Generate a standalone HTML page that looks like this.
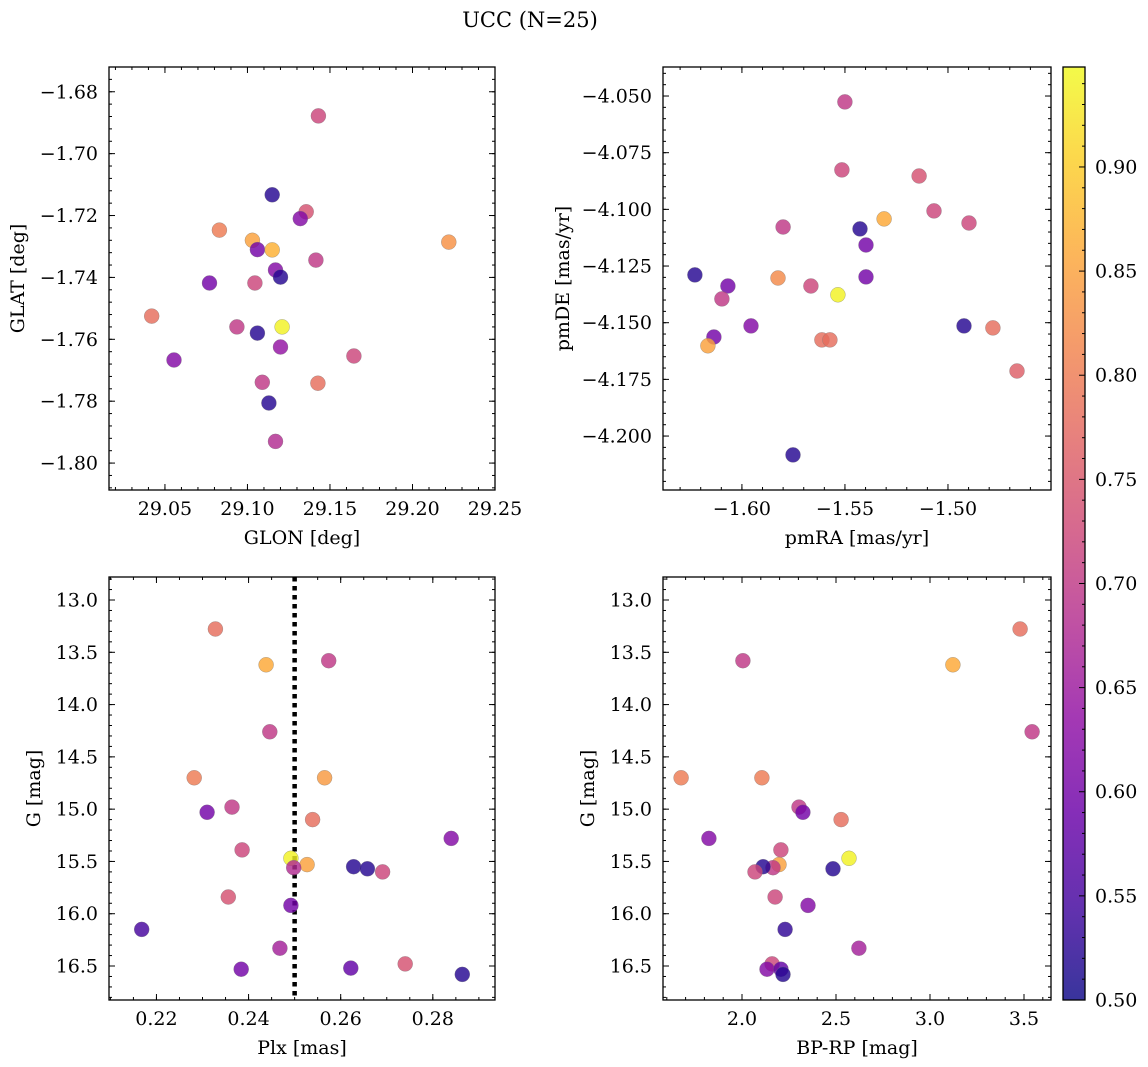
<!DOCTYPE html>
<html><head><meta charset="utf-8"><style>
body{margin:0;background:#fff;}
svg{display:block;font-family:"DejaVu Serif","Liberation Serif",serif;}
</style></head><body>
<svg id="fig" width="1148" height="1067" viewBox="0 0 1148 1067" xmlns="http://www.w3.org/2000/svg">
<text x="530" y="27" font-size="21" text-anchor="middle">UCC (N=25)</text>
</svg>
<script>
// ---- data ----
const glon = [29.143,29.115,29.1356,29.132,29.083,29.103,29.106,29.115,29.222,29.1415,29.117,29.12,29.077,29.1045,29.042,29.0936,29.121,29.106,29.0555,29.12,29.1645,29.109,29.1427,29.113,29.117];
const glat = [-1.6878,-1.7133,-1.7188,-1.721,-1.7247,-1.728,-1.731,-1.7311,-1.7286,-1.7344,-1.7376,-1.7399,-1.7418,-1.7418,-1.7525,-1.756,-1.756,-1.758,-1.7667,-1.7625,-1.7654,-1.7739,-1.7742,-1.7806,-1.793];
const probA = [0.72,0.52,0.74,0.62,0.80,0.85,0.60,0.87,0.83,0.70,0.62,0.52,0.60,0.72,0.78,0.70,0.94,0.52,0.62,0.64,0.72,0.70,0.78,0.52,0.68];

const pmra = [-1.55,-1.5515,-1.514,-1.5068,-1.531,-1.4898,-1.58,-1.5427,-1.5398,-1.6228,-1.5825,-1.5398,-1.6068,-1.5665,-1.5534,-1.6097,-1.5956,-1.4922,-1.4782,-1.6136,-1.5612,-1.5573,-1.6165,-1.4665,-1.5752];
const pmde = [-4.0526,-4.0826,-4.0853,-4.1007,-4.1042,-4.106,-4.1078,-4.1086,-4.1157,-4.1289,-4.1303,-4.1298,-4.1338,-4.1338,-4.1377,-4.1395,-4.1514,-4.1514,-4.1523,-4.1563,-4.1576,-4.1576,-4.1602,-4.1713,-4.2083];
const probB = [0.70,0.72,0.74,0.72,0.86,0.72,0.70,0.52,0.60,0.52,0.82,0.60,0.60,0.72,0.94,0.70,0.62,0.52,0.78,0.60,0.78,0.78,0.85,0.76,0.52];

const plx = [0.2328,0.2438,0.2574,0.2446,0.2282,0.2565,0.231,0.2364,0.2539,0.2386,0.284,0.2492,0.2527,0.2498,0.2628,0.2658,0.2691,0.2356,0.2492,0.2168,0.2468,0.2384,0.2622,0.274,0.2864];
const gmagC = [13.277,13.62,13.58,14.26,14.70,14.70,15.03,14.98,15.10,15.39,15.28,15.47,15.53,15.56,15.55,15.57,15.60,15.84,15.92,16.15,16.33,16.53,16.52,16.48,16.58];
const probC = [0.78,0.86,0.70,0.70,0.80,0.84,0.60,0.70,0.78,0.72,0.62,0.94,0.85,0.68,0.52,0.52,0.72,0.74,0.60,0.55,0.66,0.60,0.58,0.74,0.52];

const bprp = [3.479,3.122,2.005,3.543,1.676,2.106,2.303,2.324,2.527,2.207,1.824,2.569,2.197,2.165,2.112,2.484,2.069,2.176,2.351,2.229,2.622,2.16,2.133,2.207,2.218];
const gmagD = [13.277,13.62,13.58,14.26,14.70,14.70,14.98,15.03,15.10,15.39,15.28,15.47,15.53,15.56,15.55,15.57,15.60,15.84,15.92,16.15,16.33,16.48,16.53,16.53,16.58];
const probD = [0.78,0.86,0.70,0.70,0.80,0.80,0.70,0.60,0.78,0.72,0.62,0.94,0.85,0.70,0.52,0.52,0.72,0.72,0.62,0.53,0.66,0.72,0.62,0.58,0.52];

const cbTicks = [0.50,0.55,0.60,0.65,0.70,0.75,0.80,0.85,0.90];
const plxRef = [0.25];

// ---- helpers ----
const NS="http://www.w3.org/2000/svg";
const svg=document.getElementById('fig');
const TICKFS=19, LABFS=19;
function mk(tag,attrs,parent){const e=document.createElementNS(NS,tag);for(const k in attrs)e.setAttribute(k,attrs[k]);(parent||svg).appendChild(e);return e;}
const stops=[[13,8,135],[65,4,157],[106,0,168],[143,13,164],[177,42,144],[204,71,120],[225,100,98],[242,132,75],[252,166,54],[252,206,37],[240,249,33]];
const CMIN=0.50,CMAX=0.948;
function plasma(v){let t=(v-CMIN)/(CMAX-CMIN);t=Math.max(0,Math.min(1,t))*10;const i=Math.min(9,Math.floor(t)),f=t-i;const a=stops[i],b=stops[i+1];return `rgb(${Math.round(a[0]+(b[0]-a[0])*f)},${Math.round(a[1]+(b[1]-a[1])*f)},${Math.round(a[2]+(b[2]-a[2])*f)})`;}
function fmt(v,d){const s=Math.abs(v).toFixed(d);return (v<0?'\u2212':'')+s;}

function panel(o){
  const {L,T,R,B,x0,x1,y0,y1,name}=o;
  const sx=v=>L+(v-x0)/(x1-x0)*(R-L);
  const sy=v=>T+(v-y0)/(y1-y0)*(B-T);
  const g=mk('g',{});
  
  
  if(o.extra) o.extra(g,sx,sy);
  for(let i=0;i<o.xs.length;i++){
    const c=mk('circle',{cx:sx(o.xs[i]).toFixed(1),cy:sy(o.ys[i]).toFixed(1),r:7.5,fill:plasma(o.cs[i]),'fill-opacity':0.82,stroke:'#777','stroke-width':0.5,'stroke-opacity':0.6},g);
    
    
  }
  const tg=mk('g',{stroke:'#000','stroke-width':1},g);
  const eps=1e-9;
  function ticksX(step,len){const s=Math.ceil((Math.min(x0,x1))/step-eps);for(let k=s;k*step<=Math.max(x0,x1)+eps;k++){const x=sx(k*step);mk('line',{x1:x,y1:B,x2:x,y2:B-len},tg);mk('line',{x1:x,y1:T,x2:x,y2:T+len},tg);}}
  function ticksY(step,len){const lo=Math.min(y0,y1),hi=Math.max(y0,y1);const s=Math.ceil(lo/step-eps);for(let k=s;k*step<=hi+eps;k++){const y=sy(k*step);mk('line',{x1:L,y1:y,x2:L+len,y2:y},tg);mk('line',{x1:R,y1:y,x2:R-len,y2:y},tg);}}
  ticksX(o.xminor,3);ticksX(o.xmajor,6);ticksY(o.yminor,3);ticksY(o.ymajor,6);
  for(const v of o.xticks){const t=mk('text',{x:sx(v),y:B+25,'font-size':TICKFS,'text-anchor':'middle'},g);t.textContent=fmt(v,o.xd);}
  for(const v of o.yticks){const t=mk('text',{x:L-11,y:sy(v)+6.5,'font-size':TICKFS,'text-anchor':'end'},g);t.textContent=fmt(v,o.yd);}
  mk('rect',{x:L,y:T,width:R-L,height:B-T,fill:'none',stroke:'#000','stroke-width':1.3},g);
  const xl=mk('text',{x:(L+R)/2,y:B+54,'font-size':LABFS,'text-anchor':'middle'},g);xl.textContent=o.xlabel;
  
  const yx=o.ylx, yc=(T+B)/2;
  const yl=mk('text',{x:yx,y:yc,'font-size':LABFS,'text-anchor':'middle',transform:`rotate(-90 ${yx} ${yc})`},g);yl.textContent=o.ylabel;
  
}

panel({name:'glon-glat',L:109,T:67,R:495,B:490,x0:29.0161,x1:29.25,y0:-1.6720,y1:-1.8087,
  xs:glon,ys:glat,cs:probA,xmajor:0.05,xminor:0.01,ymajor:0.02,yminor:0.004,
  xticks:[29.05,29.10,29.15,29.20,29.25],xd:2,yticks:[-1.68,-1.70,-1.72,-1.74,-1.76,-1.78,-1.80],yd:2,
  xlabel:'GLON [deg]',ylabel:'GLAT [deg]',ylx:24});
panel({name:'pmra-pmde',L:663,T:67,R:1051,B:490,x0:-1.6383,x1:-1.4500,y0:-4.0372,y1:-4.2238,
  xs:pmra,ys:pmde,cs:probB,xmajor:0.05,xminor:0.01,ymajor:0.025,yminor:0.005,
  xticks:[-1.60,-1.55,-1.50],xd:2,yticks:[-4.050,-4.075,-4.100,-4.125,-4.150,-4.175,-4.200],yd:3,
  xlabel:'pmRA [mas/yr]',ylabel:'pmDE [mas/yr]',ylx:569});
panel({name:'plx-g',L:109,T:577,R:495,B:1000,x0:0.2097,x1:0.2935,y0:12.78,y1:16.825,
  xs:plx,ys:gmagC,cs:probC,xmajor:0.02,xminor:0.005,ymajor:0.5,yminor:0.1,
  xticks:[0.22,0.24,0.26,0.28],xd:2,yticks:[13.0,13.5,14.0,14.5,15.0,15.5,16.0,16.5],yd:1,
  xlabel:'Plx [mas]',ylabel:'G [mag]',ylx:40,
  extra:(g,sx,sy)=>{for(const v of plxRef){const l=mk('line',{x1:sx(v),y1:577,x2:sx(v),y2:1000,stroke:'#000','stroke-width':4.5,'stroke-dasharray':'4.5 4.5'},g);}}});
panel({name:'bprp-g',L:663,T:577,R:1051,B:1000,x0:1.5798,x1:3.6436,y0:12.78,y1:16.825,
  xs:bprp,ys:gmagD,cs:probD,xmajor:0.5,xminor:0.1,ymajor:0.5,yminor:0.1,
  xticks:[2.0,2.5,3.0,3.5],xd:1,yticks:[13.0,13.5,14.0,14.5,15.0,15.5,16.0,16.5],yd:1,
  xlabel:'BP-RP [mag]',ylabel:'G [mag]',ylx:594});

(function(){
  const L=1063,R=1085,T=67,B=1000;
  const g=mk('g',{});
  
  
  const defs=mk('defs',{},g);
  const lg=mk('linearGradient',{id:'cbg',x1:0,y1:1,x2:0,y2:0},defs);
  for(let i=0;i<=20;i++){const v=CMIN+(CMAX-CMIN)*i/20;mk('stop',{offset:i/20,'stop-color':plasma(v)},lg);}
  mk('rect',{x:L,y:T,width:R-L,height:B-T,fill:'url(#cbg)','fill-opacity':0.82},g);
  const sy=v=>B-(v-CMIN)/(CMAX-CMIN)*(B-T);
  for(let k=50;k<=94;k++){const y=sy(k/100);const len=(k%5===0)?6:3;mk('line',{x1:R,y1:y,x2:R-len,y2:y,stroke:'#000','stroke-width':1},g);}
  for(const v of cbTicks){const t=mk('text',{x:R+10,y:sy(v)+6.5,'font-size':TICKFS},g);t.textContent=v.toFixed(2);}
  mk('rect',{x:L,y:T,width:R-L,height:B-T,fill:'none',stroke:'#000','stroke-width':1.3},g);
})();
</script>
</body></html>
